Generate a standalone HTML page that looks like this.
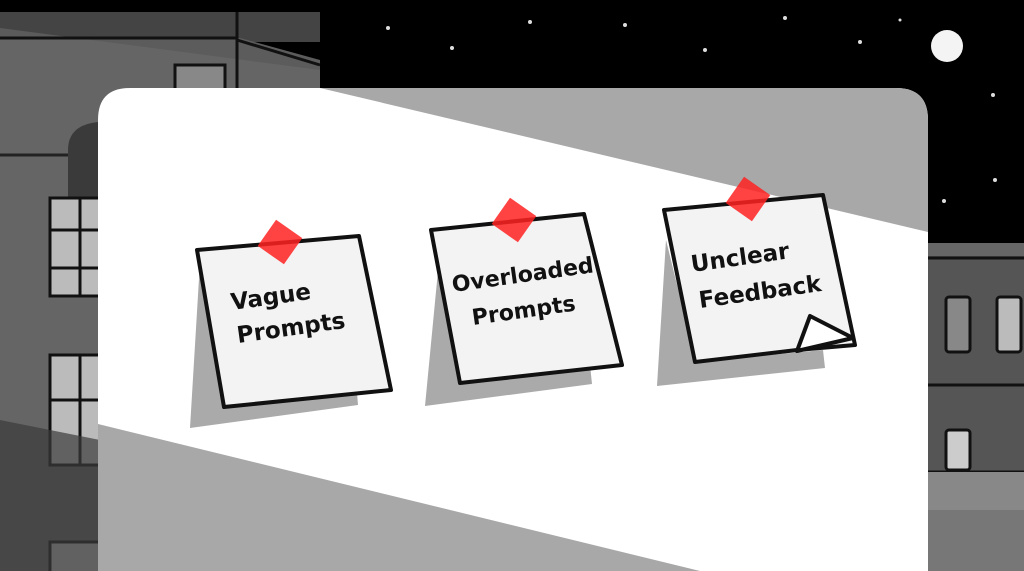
<!DOCTYPE html>
<html><head><style>html,body{margin:0;padding:0;background:#000;overflow:hidden;width:1024px;height:571px}svg{display:block}</style></head><body>
<svg width="1024" height="571" viewBox="0 0 1024 571" xmlns="http://www.w3.org/2000/svg">
<rect width="1024" height="571" fill="#000"/>
<g fill="#ddd">
<circle cx="388" cy="28" r="2"/><circle cx="452" cy="48" r="2"/><circle cx="530" cy="22" r="2"/><circle cx="625" cy="25" r="2"/><circle cx="705" cy="50" r="2"/><circle cx="785" cy="18" r="2"/><circle cx="860" cy="42" r="2"/><circle cx="993" cy="95" r="2"/><circle cx="944" cy="201" r="2"/><circle cx="995" cy="180" r="2"/><circle cx="900" cy="20" r="1.5"/>
</g>
<circle cx="947" cy="46" r="16" fill="#f4f4f4"/>
<rect x="0" y="12" width="320" height="30" fill="#444"/>
<polygon points="0,38 240,38 320,60 320,571 0,571" fill="#5c5c5c"/>
<polygon points="0,28 320,70 320,571 0,571" fill="#6a6a6a" opacity="0.6"/>
<line x1="0" y1="38" x2="238" y2="38" stroke="#111" stroke-width="3"/>
<line x1="237" y1="12" x2="237" y2="88" stroke="#111" stroke-width="3"/>
<line x1="237" y1="40" x2="320" y2="65" stroke="#111" stroke-width="3"/>
<rect x="175" y="65" width="50" height="25" fill="#888" stroke="#111" stroke-width="3"/>
<line x1="0" y1="155" x2="100" y2="155" stroke="#222" stroke-width="3"/>
<path d="M68,200 L68,150 Q68,125 98,122 L98,200 Z" fill="#3a3a3a"/>
<g stroke="#111" stroke-width="3" fill="#bbb">
<rect x="50" y="198" width="50" height="98"/><line x1="80" y1="198" x2="80" y2="296"/><line x1="50" y1="230" x2="100" y2="230"/><line x1="50" y1="268" x2="100" y2="268"/>
<rect x="50" y="355" width="50" height="110"/><line x1="80" y1="355" x2="80" y2="465"/><line x1="50" y1="400" x2="100" y2="400"/>
<path d="M50,571 L50,542 L100,542 L100,571"/>
</g>
<polygon points="0,420 100,440 100,571 0,571" fill="#3a3a3a" opacity="0.7"/>
<rect x="928" y="243" width="96" height="328" fill="#555"/>
<rect x="928" y="243" width="96" height="13" fill="#666"/>
<g stroke="#111" stroke-width="3">
<line x1="928" y1="258" x2="1024" y2="258"/><line x1="928" y1="385" x2="1024" y2="385"/><line x1="928" y1="472" x2="1024" y2="472"/><line x1="928" y1="510" x2="1024" y2="510"/>
</g>
<rect x="928" y="472" width="96" height="38" fill="#888"/><rect x="928" y="510" width="96" height="61" fill="#777"/>
<g stroke="#111" stroke-width="3">
<rect x="946" y="297" width="24" height="55" rx="3" fill="#888"/><rect x="997" y="297" width="24" height="55" rx="3" fill="#bbb"/>
<rect x="946" y="430" width="24" height="40" rx="3" fill="#ccc"/>
</g>
<clipPath id="p"><path d="M98,571 L98,120 Q98,88 130,88 L896,88 Q928,88 928,120 L928,571 Z"/></clipPath>
<g clip-path="url(#p)">
<rect x="98" y="88" width="830" height="483" fill="#fff"/>
<polygon points="320,88 928,88 928,232" fill="#a8a8a8"/>
<polygon points="98,424 700,571 98,571" fill="#a8a8a8"/>
</g>
<g fill="#aaa">
<polygon points="200,262 190,428 358,405 356,380 220,395"/>
<polygon points="440,250 425,406 592,384 590,365 460,383"/>
<polygon points="666,240 657,386 825,368 823,350 696,362"/>
</g>
<g stroke="#111" stroke-width="4" stroke-linejoin="round" fill="#f3f3f3">
<polygon points="197,250 359,236 391,390 224,407"/>
<polygon points="431,230 584,214 622,365 460,383"/>
<polygon points="664,210 823,195 855,345 797,350 695,362"/>
<polygon points="797,351 810,316 853,338" fill="#fff"/>
</g>
<g fill="#f22" opacity="0.85">
<rect x="-16" y="-16" width="32" height="32" transform="translate(280,242) rotate(35)"/>
<rect x="-16" y="-16" width="32" height="32" transform="translate(514,220) rotate(35)"/>
<rect x="-16" y="-16" width="32" height="32" transform="translate(748,199) rotate(35)"/>
</g>
<g font-family="'DejaVu Sans', 'Liberation Sans', sans-serif" font-size="23" fill="#111" font-weight="bold">
<text transform="translate(232,310) rotate(-8)">Vague</text>
<text transform="translate(238,343) rotate(-8)">Prompts</text>
<text transform="translate(453,292) rotate(-8)" font-size="22">Overloaded</text>
<text transform="translate(473,325) rotate(-8)" font-size="22">Prompts</text>
<text transform="translate(692,272) rotate(-8)">Unclear</text>
<text transform="translate(700,308) rotate(-8)">Feedback</text>
</g>
</svg>
</body></html>
